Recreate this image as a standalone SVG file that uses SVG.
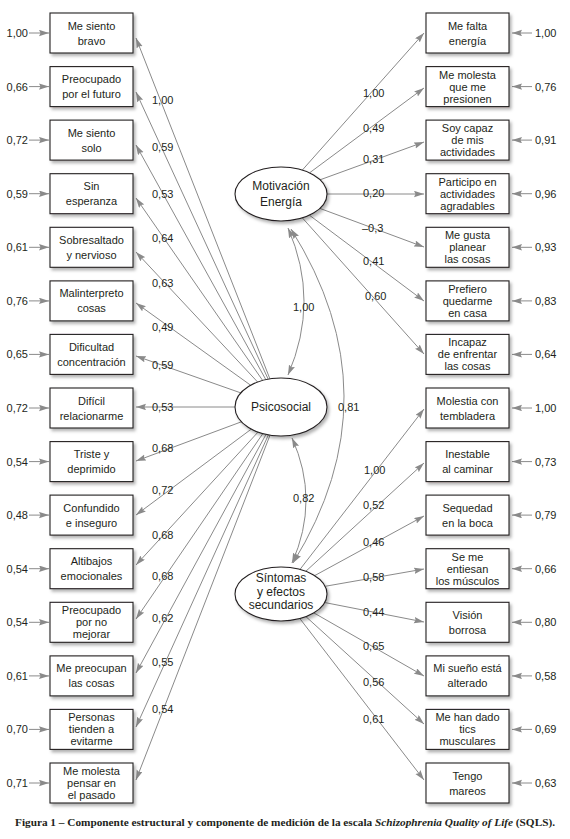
<svg xmlns="http://www.w3.org/2000/svg" width="570" height="839" viewBox="0 0 570 839">
<style>
.box{fill:#fff;stroke:#231f20;stroke-width:1.1;filter:url(#sh)}
.ell{fill:#fff;stroke:#231f20;stroke-width:1.1;filter:url(#sh)}
.t{font-family:"Liberation Sans",Arial,sans-serif;font-size:11px;fill:#231f20;text-anchor:middle}
.e{font-family:"Liberation Sans",Arial,sans-serif;font-size:12px;fill:#231f20;text-anchor:middle}
.n{font-family:"Liberation Sans",Arial,sans-serif;font-size:11px;fill:#231f20}
.ne{font-family:"Liberation Sans",Arial,sans-serif;font-size:11px;fill:#231f20;text-anchor:end}
.c line,.c path{stroke:#8a8a8a;stroke-width:1;fill:none}
.c line{marker-end:url(#ah)}
.c path{marker-start:url(#ah2);marker-end:url(#ah2)}
</style>
<defs>
<filter id="sh" x="-15%" y="-15%" width="140%" height="150%">
<feDropShadow dx="2" dy="2.5" stdDeviation="1.5" flood-color="#000" flood-opacity="0.3"/>
</filter>
<marker id="ah" markerUnits="userSpaceOnUse" markerWidth="11" markerHeight="7" refX="10" refY="3.2" orient="auto">
<path d="M0,0 L10,3.2 L0,6.4 L1.5,3.2 z" fill="#8a8a8a"/>
</marker>
<marker id="ah2" markerUnits="userSpaceOnUse" markerWidth="11" markerHeight="7" refX="10" refY="3.2" orient="auto-start-reverse">
<path d="M0,0 L10,3.2 L0,6.4 L1.5,3.2 z" fill="#8a8a8a"/>
</marker>
</defs>
<rect width="570" height="839" fill="#fff"/>

<g id="connectors" class="c">
<line x1="29" y1="33" x2="49" y2="33"/>
<line x1="29" y1="86.6" x2="49" y2="86.6"/>
<line x1="29" y1="140.1" x2="49" y2="140.1"/>
<line x1="29" y1="193.7" x2="49" y2="193.7"/>
<line x1="29" y1="247.3" x2="49" y2="247.3"/>
<line x1="29" y1="300.9" x2="49" y2="300.9"/>
<line x1="29" y1="354.4" x2="49" y2="354.4"/>
<line x1="29" y1="408" x2="49" y2="408"/>
<line x1="29" y1="461.6" x2="49" y2="461.6"/>
<line x1="29" y1="515.1" x2="49" y2="515.1"/>
<line x1="29" y1="568.7" x2="49" y2="568.7"/>
<line x1="29" y1="622.3" x2="49" y2="622.3"/>
<line x1="29" y1="675.9" x2="49" y2="675.9"/>
<line x1="29" y1="729.4" x2="49" y2="729.4"/>
<line x1="29" y1="783" x2="49" y2="783"/>
<line x1="532" y1="33" x2="512" y2="33"/>
<line x1="532" y1="86.6" x2="512" y2="86.6"/>
<line x1="532" y1="140.1" x2="512" y2="140.1"/>
<line x1="532" y1="193.7" x2="512" y2="193.7"/>
<line x1="532" y1="247.3" x2="512" y2="247.3"/>
<line x1="532" y1="300.9" x2="512" y2="300.9"/>
<line x1="532" y1="354.4" x2="512" y2="354.4"/>
<line x1="532" y1="408" x2="512" y2="408"/>
<line x1="532" y1="461.6" x2="512" y2="461.6"/>
<line x1="532" y1="515.1" x2="512" y2="515.1"/>
<line x1="532" y1="568.7" x2="512" y2="568.7"/>
<line x1="532" y1="622.3" x2="512" y2="622.3"/>
<line x1="532" y1="675.9" x2="512" y2="675.9"/>
<line x1="532" y1="729.4" x2="512" y2="729.4"/>
<line x1="532" y1="783" x2="512" y2="783"/>
<line x1="269.9" y1="378.8" x2="136" y2="38"/>
<line x1="268.2" y1="379.2" x2="136" y2="92"/>
<line x1="265.8" y1="379.6" x2="136" y2="145"/>
<line x1="262.6" y1="380.4" x2="136" y2="198"/>
<line x1="257.6" y1="382.0" x2="136" y2="252"/>
<line x1="250.6" y1="385.2" x2="136" y2="303"/>
<line x1="240.8" y1="392.9" x2="136" y2="356"/>
<line x1="235" y1="407" x2="136" y2="407"/>
<line x1="241.4" y1="421.8" x2="136" y2="461"/>
<line x1="251.3" y1="429.1" x2="136" y2="515"/>
<line x1="258.0" y1="432.1" x2="136" y2="565"/>
<line x1="262.8" y1="433.6" x2="136" y2="619"/>
<line x1="266.0" y1="434.4" x2="136" y2="673"/>
<line x1="268.4" y1="434.9" x2="136" y2="727"/>
<line x1="270.0" y1="435.2" x2="136" y2="780"/>
<line x1="302.3" y1="170.1" x2="424" y2="33"/>
<line x1="309.6" y1="172.8" x2="424" y2="88"/>
<line x1="320.1" y1="179.8" x2="424" y2="142"/>
<line x1="327" y1="194" x2="424" y2="194"/>
<line x1="319.9" y1="208.4" x2="424" y2="247"/>
<line x1="309.4" y1="215.2" x2="424" y2="301"/>
<line x1="302.4" y1="217.9" x2="424" y2="354"/>
<line x1="300.0" y1="569.4" x2="424" y2="409"/>
<line x1="305.8" y1="571.3" x2="424" y2="463"/>
<line x1="314.7" y1="575.6" x2="424" y2="516"/>
<line x1="325.1" y1="586.3" x2="424" y2="569"/>
<line x1="324.6" y1="602.5" x2="424" y2="622"/>
<line x1="313.9" y1="612.9" x2="424" y2="676"/>
<line x1="306.0" y1="616.7" x2="424" y2="724"/>
<line x1="299.9" y1="618.6" x2="424" y2="780"/>
<path d="M288,228 Q320,301 288,375"/>
<path d="M291,229 Q396,396 293,563"/>
<path d="M292,438 Q320,500 292,563"/>
</g>

<g id="coef">
<text class="n" x="152" y="104">1,00</text>
<text class="n" x="152" y="151">0,59</text>
<text class="n" x="152" y="198">0,53</text>
<text class="n" x="152" y="242">0,64</text>
<text class="n" x="152" y="287">0,63</text>
<text class="n" x="152" y="331">0,49</text>
<text class="n" x="152" y="369">0,59</text>
<text class="n" x="152" y="411">0,53</text>
<text class="n" x="152" y="452">0,68</text>
<text class="n" x="152" y="494">0,72</text>
<text class="n" x="152" y="539">0,68</text>
<text class="n" x="152" y="580">0,68</text>
<text class="n" x="152" y="622">0,62</text>
<text class="n" x="152" y="666">0,55</text>
<text class="n" x="152" y="713">0,54</text>

<text class="n" x="363" y="97">1,00</text>
<text class="n" x="363" y="132">0,49</text>
<text class="n" x="363" y="163">0,31</text>
<text class="n" x="363" y="197">0,20</text>
<text class="n" x="362" y="232">–0,3</text>
<text class="n" x="363" y="265">0,41</text>
<text class="n" x="365" y="300">0,60</text>
<text class="n" x="364" y="474">1,00</text>
<text class="n" x="363" y="509">0,52</text>
<text class="n" x="363" y="546">0,46</text>
<text class="n" x="363" y="581">0,58</text>
<text class="n" x="363" y="616">0,44</text>
<text class="n" x="363" y="650">0,65</text>
<text class="n" x="363" y="686">0,56</text>
<text class="n" x="363" y="723">0,61</text>

<text class="n" x="293" y="311">1,00</text>
<text class="n" x="338" y="411">0,81</text>
<text class="n" x="293" y="502">0,82</text>

<text class="ne" x="28" y="37">1,00</text>
<text class="ne" x="28" y="90.6">0,66</text>
<text class="ne" x="28" y="144.1">0,72</text>
<text class="ne" x="28" y="197.7">0,59</text>
<text class="ne" x="28" y="251.3">0,61</text>
<text class="ne" x="28" y="304.9">0,76</text>
<text class="ne" x="28" y="358.4">0,65</text>
<text class="ne" x="28" y="412">0,72</text>
<text class="ne" x="28" y="465.6">0,54</text>
<text class="ne" x="28" y="519.1">0,48</text>
<text class="ne" x="28" y="572.7">0,54</text>
<text class="ne" x="28" y="626.3">0,54</text>
<text class="ne" x="28" y="679.9">0,61</text>
<text class="ne" x="28" y="733.4">0,70</text>
<text class="ne" x="28" y="787">0,71</text>

<text class="n" x="535" y="37">1,00</text>
<text class="n" x="535" y="90.6">0,76</text>
<text class="n" x="535" y="144.1">0,91</text>
<text class="n" x="535" y="197.7">0,96</text>
<text class="n" x="535" y="251.3">0,93</text>
<text class="n" x="535" y="304.9">0,83</text>
<text class="n" x="535" y="358.4">0,64</text>
<text class="n" x="535" y="412">1,00</text>
<text class="n" x="535" y="465.6">0,73</text>
<text class="n" x="535" y="519.1">0,79</text>
<text class="n" x="535" y="572.7">0,66</text>
<text class="n" x="535" y="626.3">0,80</text>
<text class="n" x="535" y="679.9">0,58</text>
<text class="n" x="535" y="733.4">0,69</text>
<text class="n" x="535" y="787">0,63</text>
</g>

<g id="motivacion"><ellipse class="ell" cx="281" cy="194" rx="46" ry="27"/><text class="e" x="281"><tspan x="281" y="190">Motivación</tspan><tspan x="281" y="206">Energía</tspan></text></g>
<g id="psicosocial"><ellipse class="ell" cx="281" cy="407" rx="46" ry="29"/><text class="e" x="281" y="411">Psicosocial</text></g>
<g id="sintomas"><ellipse class="ell" cx="281" cy="594" rx="46" ry="27"/><text class="e" x="281"><tspan x="281" y="582">Síntomas</tspan><tspan x="281" y="596">y efectos</tspan><tspan x="281" y="609">secundarios</tspan></text></g>

<g id="L0"><rect class="box" x="50" y="13" width="83" height="40"/><text class="t"><tspan x="91.5" y="29.5">Me siento</tspan><tspan x="91.5" y="44.5">bravo</tspan></text></g>
<g id="L1"><rect class="box" x="50" y="66.6" width="83" height="40"/><text class="t"><tspan x="91.5" y="83.1">Preocupado</tspan><tspan x="91.5" y="98.1">por el futuro</tspan></text></g>
<g id="L2"><rect class="box" x="50" y="120.1" width="83" height="40"/><text class="t"><tspan x="91.5" y="136.6">Me siento</tspan><tspan x="91.5" y="151.6">solo</tspan></text></g>
<g id="L3"><rect class="box" x="50" y="173.7" width="83" height="40"/><text class="t"><tspan x="91.5" y="190.2">Sin</tspan><tspan x="91.5" y="205.2">esperanza</tspan></text></g>
<g id="L4"><rect class="box" x="50" y="227.3" width="83" height="40"/><text class="t"><tspan x="91.5" y="243.8">Sobresaltado</tspan><tspan x="91.5" y="258.8">y nervioso</tspan></text></g>
<g id="L5"><rect class="box" x="50" y="280.9" width="83" height="40"/><text class="t"><tspan x="91.5" y="297.4">Malinterpreto</tspan><tspan x="91.5" y="312.4">cosas</tspan></text></g>
<g id="L6"><rect class="box" x="50" y="334.4" width="83" height="40"/><text class="t"><tspan x="91.5" y="350.9">Dificultad</tspan><tspan x="91.5" y="365.9">concentración</tspan></text></g>
<g id="L7"><rect class="box" x="50" y="388" width="83" height="40"/><text class="t"><tspan x="91.5" y="404.5">Difícil</tspan><tspan x="91.5" y="419.5">relacionarme</tspan></text></g>
<g id="L8"><rect class="box" x="50" y="441.6" width="83" height="40"/><text class="t"><tspan x="91.5" y="458.1">Triste y</tspan><tspan x="91.5" y="473.1">deprimido</tspan></text></g>
<g id="L9"><rect class="box" x="50" y="495.1" width="83" height="40"/><text class="t"><tspan x="91.5" y="511.6">Confundido</tspan><tspan x="91.5" y="526.6">e inseguro</tspan></text></g>
<g id="L10"><rect class="box" x="50" y="548.7" width="83" height="40"/><text class="t"><tspan x="91.5" y="565.2">Altibajos</tspan><tspan x="91.5" y="580.2">emocionales</tspan></text></g>
<g id="L11"><rect class="box" x="50" y="602.3" width="83" height="40"/><text class="t"><tspan x="91.5" y="614.3">Preocupado</tspan><tspan x="91.5" y="626.3">por no</tspan><tspan x="91.5" y="638.3">mejorar</tspan></text></g>
<g id="L12"><rect class="box" x="50" y="655.9" width="83" height="40"/><text class="t"><tspan x="91.5" y="672.4">Me preocupan</tspan><tspan x="91.5" y="687.4">las cosas</tspan></text></g>
<g id="L13"><rect class="box" x="50" y="709.4" width="83" height="40"/><text class="t"><tspan x="91.5" y="721.4">Personas</tspan><tspan x="91.5" y="733.4">tienden a</tspan><tspan x="91.5" y="745.4">evitarme</tspan></text></g>
<g id="L14"><rect class="box" x="50" y="763" width="83" height="40"/><text class="t"><tspan x="91.5" y="775">Me molesta</tspan><tspan x="91.5" y="787">pensar en</tspan><tspan x="91.5" y="799">el pasado</tspan></text></g>

<g id="R0"><rect class="box" x="426" y="13" width="83" height="40"/><text class="t"><tspan x="467.5" y="29.5">Me falta</tspan><tspan x="467.5" y="44.5">energía</tspan></text></g>
<g id="R1"><rect class="box" x="426" y="66.6" width="83" height="40"/><text class="t"><tspan x="467.5" y="78.6">Me molesta</tspan><tspan x="467.5" y="90.6">que me</tspan><tspan x="467.5" y="102.6">presionen</tspan></text></g>
<g id="R2"><rect class="box" x="426" y="120.1" width="83" height="40"/><text class="t"><tspan x="467.5" y="132.1">Soy capaz</tspan><tspan x="467.5" y="144.1">de mis</tspan><tspan x="467.5" y="156.1">actividades</tspan></text></g>
<g id="R3"><rect class="box" x="426" y="173.7" width="83" height="40"/><text class="t"><tspan x="467.5" y="185.7">Participo en</tspan><tspan x="467.5" y="197.7">actividades</tspan><tspan x="467.5" y="209.7">agradables</tspan></text></g>
<g id="R4"><rect class="box" x="426" y="227.3" width="83" height="40"/><text class="t"><tspan x="467.5" y="239.3">Me gusta</tspan><tspan x="467.5" y="251.3">planear</tspan><tspan x="467.5" y="263.3">las cosas</tspan></text></g>
<g id="R5"><rect class="box" x="426" y="280.9" width="83" height="40"/><text class="t"><tspan x="467.5" y="292.9">Prefiero</tspan><tspan x="467.5" y="304.9">quedarme</tspan><tspan x="467.5" y="316.9">en casa</tspan></text></g>
<g id="R6"><rect class="box" x="426" y="334.4" width="83" height="40"/><text class="t"><tspan x="467.5" y="346.4">Incapaz</tspan><tspan x="467.5" y="358.4">de enfrentar</tspan><tspan x="467.5" y="370.4">las cosas</tspan></text></g>
<g id="R7"><rect class="box" x="426" y="388" width="83" height="40"/><text class="t"><tspan x="467.5" y="404.5">Molestia con</tspan><tspan x="467.5" y="419.5">tembladera</tspan></text></g>
<g id="R8"><rect class="box" x="426" y="441.6" width="83" height="40"/><text class="t"><tspan x="467.5" y="458.1">Inestable</tspan><tspan x="467.5" y="473.1">al caminar</tspan></text></g>
<g id="R9"><rect class="box" x="426" y="495.1" width="83" height="40"/><text class="t"><tspan x="467.5" y="511.6">Sequedad</tspan><tspan x="467.5" y="526.6">en la boca</tspan></text></g>
<g id="R10"><rect class="box" x="426" y="548.7" width="83" height="40"/><text class="t"><tspan x="467.5" y="560.7">Se me</tspan><tspan x="467.5" y="572.7">entiesan</tspan><tspan x="467.5" y="584.7">los músculos</tspan></text></g>
<g id="R11"><rect class="box" x="426" y="602.3" width="83" height="40"/><text class="t"><tspan x="467.5" y="618.8">Visión</tspan><tspan x="467.5" y="633.8">borrosa</tspan></text></g>
<g id="R12"><rect class="box" x="426" y="655.9" width="83" height="40"/><text class="t"><tspan x="467.5" y="672.4">Mi sueño está</tspan><tspan x="467.5" y="687.4">alterado</tspan></text></g>
<g id="R13"><rect class="box" x="426" y="709.4" width="83" height="40"/><text class="t"><tspan x="467.5" y="721.4">Me han dado</tspan><tspan x="467.5" y="733.4">tics</tspan><tspan x="467.5" y="745.4">musculares</tspan></text></g>
<g id="R14"><rect class="box" x="426" y="763" width="83" height="40"/><text class="t"><tspan x="467.5" y="779.5">Tengo</tspan><tspan x="467.5" y="794.5">mareos</tspan></text></g>

<text x="15" y="826" textLength="540" lengthAdjust="spacingAndGlyphs" font-family="'Liberation Serif',serif" font-weight="bold" font-size="10.5" fill="#231f20">Figura 1 – Componente estructural y componente de medición de la escala <tspan font-style="italic">Schizophrenia Quality of Life</tspan> (SQLS).</text>
</svg>
